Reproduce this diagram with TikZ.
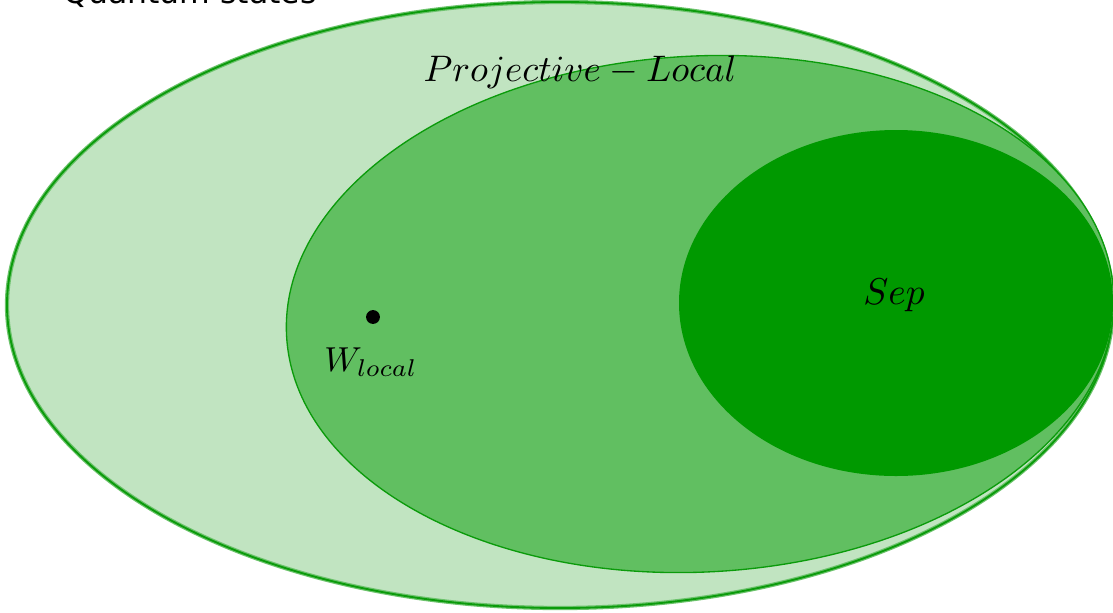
\documentclass[tikz,border=0pt]{standalone}
\usepackage{fontspec}
\newfontfamily\qsfont{DejaVu Sans}
\definecolor{lightg}{HTML}{C1E4C1}
\definecolor{midg}{HTML}{61BF61}
\definecolor{darkg}{HTML}{009900}
\definecolor{edgeg}{HTML}{0B9B0B}
\begin{document}
\begin{tikzpicture}[x=0.75pt,y=-0.75pt,
  lbl/.style={inner sep=0pt}]
\useasboundingbox (0,0) rectangle (1113,612);
\fill[lightg,draw=edgeg!60,line width=3.2pt] (560,305) ellipse [x radius=553, y radius=303];
\draw[edgeg,line width=1.4pt] (560,305) ellipse [x radius=553, y radius=303];
\filldraw[fill=midg,draw=edgeg,line width=1pt,rotate around={3:(700,314)}] (700,314) ellipse [x radius=414, y radius=258];
\fill[darkg] (896,303) ellipse [x radius=217, y radius=173];
\node[lbl,anchor=base] (title) at (190,3) {\qsfont\fontsize{23.6}{27}\selectfont Quantum states};
\node[lbl] (proj) at (580,72) {\scalebox{2.77}{$Projective-Local$}};
\node[lbl] (sep) at (894,295) {\scalebox{2.8}{$Sep$}};
\fill (373,317) circle [radius=5.2pt];
\coordinate (w) at (373,317);
\node[lbl] (wl) at (371,362) {\scalebox{2.6}{$W_{local}$}};
\end{tikzpicture}
\end{document}
